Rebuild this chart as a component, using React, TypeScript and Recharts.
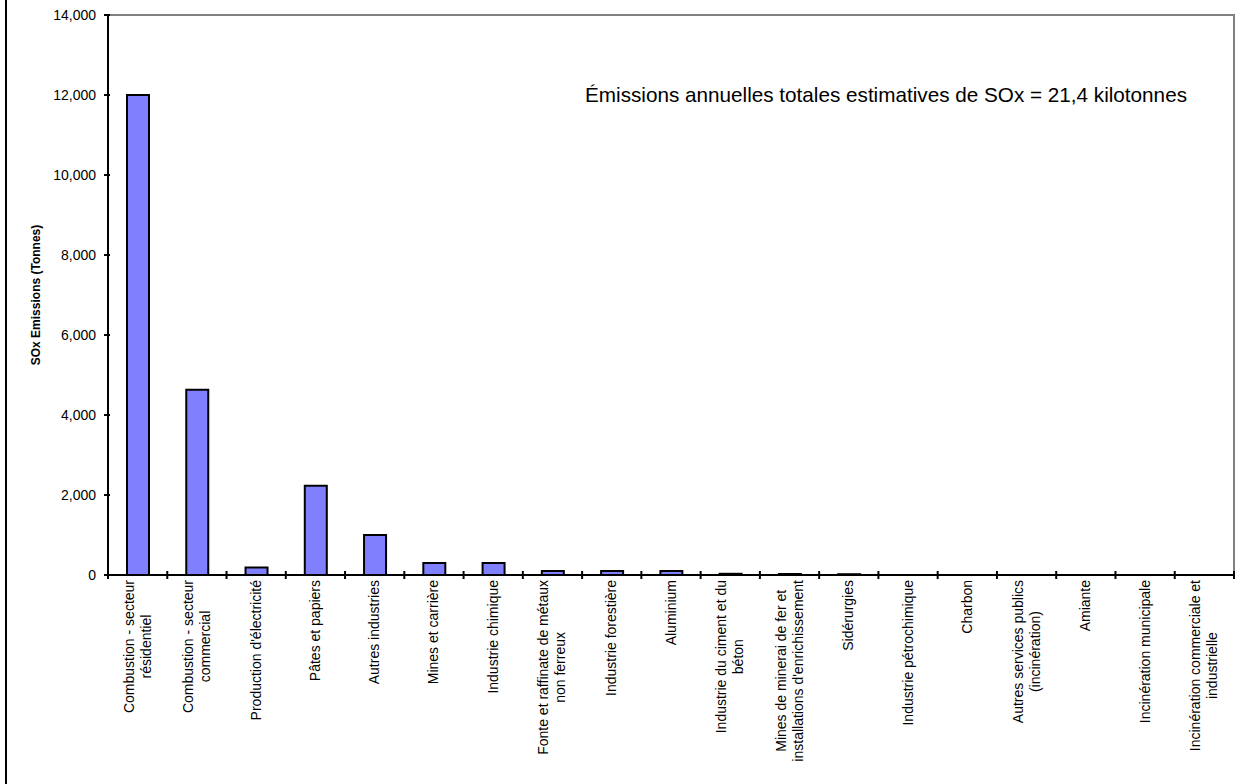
import React from 'react'
import { BarChart, Bar, XAxis, YAxis, Customized } from 'recharts'

// Émissions de SOx par secteur (tonnes)
const categories = [
  'Combustion - secteur\nrésidentiel',
  'Combustion - secteur\ncommercial',
  "Production d'électricité",
  'Pâtes et papiers',
  'Autres industries',
  'Mines et carrière',
  'Industrie chimique',
  'Fonte et raffinate de métaux\nnon ferreux',
  'Industrie forestière',
  'Aluminium',
  'Industrie du ciment et du\nbéton',
  "Mines de minerai de fer et\ninstallations d'enrichissement",
  'Sidérurgies',
  'Industrie pétrochimique',
  'Charbon',
  'Autres services publics\n(incinération)',
  'Amiante',
  'Incinération municipale',
  'Incinération commerciale et\nindustrielle',
]

const emissions = [12000, 4630, 190, 2230, 1000, 300, 300, 100, 100, 100, 30, 25, 20, 0, 0, 0, 0, 0, 0]

const yTicks = [0, 2000, 4000, 6000, 8000, 10000, 12000, 14000]

const annotation = 'Émissions annuelles totales estimatives de SOx = 21,4 kilotonnes'
const yLabel = 'SOx Emissions (Tonnes)'

const chartData = categories.map((name, i) => ({ name, value: emissions[i] }))

const W = 1249
const H = 784
const PLOT_LEFT = 108
const PLOT_RIGHT = 1234
const PLOT_TOP = 15
const PLOT_BOTTOM = 575
const BAND = (PLOT_RIGHT - PLOT_LEFT) / categories.length
const FONT = '"Liberation Sans", Arial, sans-serif'

let ctx: CanvasRenderingContext2D | null = null
function measure(text: string, size: number) {
  if (!ctx) {
    ctx = document.createElement('canvas').getContext('2d')
  }
  if (!ctx) return text.length * size * 0.5
  ctx.font = `${size}px "Liberation Sans"`
  return ctx.measureText(text).width
}

function XTick(props: any) {
  const { x, y, payload, index } = props
  const lines: string[] = String(payload.value).split('\n')
  const maxW = Math.max(...lines.map(l => measure(l, 14)))
  const cx = -(5 + maxW / 2)
  const n = lines.length
  const left = x - BAND / 2
  return (
    <g>
      <line x1={left} x2={left} y1={PLOT_BOTTOM - 4} y2={PLOT_BOTTOM + 4} stroke="#000" strokeWidth={2} />
      {index === categories.length - 1 && (
        <line x1={x + BAND / 2} x2={x + BAND / 2} y1={PLOT_BOTTOM - 4} y2={PLOT_BOTTOM + 4} stroke="#000" strokeWidth={2} />
      )}
      <g transform={`translate(${x},${y})`}>
        <text transform="rotate(-90)" textAnchor="middle" fontSize={14} fontFamily={FONT} fill="#000">
          {lines.map((l, i) => (
            <tspan key={i} x={cx} y={4.5 + (i - (n - 1) / 2) * 17}>
              {l}
            </tspan>
          ))}
        </text>
      </g>
    </g>
  )
}

function YTick(props: any) {
  const { x, y, payload } = props
  return (
    <g>
      <line x1={PLOT_LEFT - 4} x2={PLOT_LEFT + 2} y1={y} y2={y} stroke="#000" strokeWidth={2} />
      <text x={x} y={y} dy={5} textAnchor="end" fontSize={14} fontFamily={FONT} fill="#000">
        {Number(payload.value).toLocaleString('en-US')}
      </text>
    </g>
  )
}

function Frame() {
  return (
    <g>
      <line x1={6} x2={6} y1={0} y2={H} stroke="#000" strokeWidth={2} />
      <polyline
        points={`${PLOT_LEFT},${PLOT_TOP} ${PLOT_RIGHT},${PLOT_TOP} ${PLOT_RIGHT},${PLOT_BOTTOM}`}
        fill="none"
        stroke="#808080"
        strokeWidth={2}
      />
      <text x={585} y={102} fontSize={20.7} fontFamily={FONT} fill="#000">
        {annotation}
      </text>
      <text
        x={0}
        y={0}
        transform={`translate(40, ${(PLOT_TOP + PLOT_BOTTOM) / 2}) rotate(-90)`}
        textAnchor="middle"
        fontSize={12}
        fontWeight="bold"
        fontFamily={FONT}
        fill="#000"
      >
        {yLabel}
      </text>
    </g>
  )
}

export default function App() {
  return (
    <div style={{ width: W, height: H, background: '#fff' }}>
      <style>{`body{margin:0}`}</style>
      <BarChart
        width={W}
        height={H}
        data={chartData}
        margin={{ top: PLOT_TOP, right: W - PLOT_RIGHT, left: 0, bottom: 0 }}
      >
        <Customized component={Frame} />
        <XAxis
          dataKey="name"
          interval={0}
          height={H - PLOT_BOTTOM - PLOT_TOP + 15}
          tickLine={false}
          tickSize={0}
          tickMargin={0}
          tick={<XTick />}
          axisLine={{ stroke: '#000', strokeWidth: 2 }}
        />
        <YAxis
          width={PLOT_LEFT}
          domain={[0, 14000]}
          ticks={yTicks}
          interval={0}
          tick={<YTick />}
          tickLine={false}
          tickSize={5}
          tickMargin={7}
          axisLine={{ stroke: '#000', strokeWidth: 2 }}
        />
        <Bar
          dataKey="value"
          fill="#8080FF"
          stroke="#000"
          strokeWidth={2}
          barSize={22}
          isAnimationActive={false}
        />
      </BarChart>
    </div>
  )
}
